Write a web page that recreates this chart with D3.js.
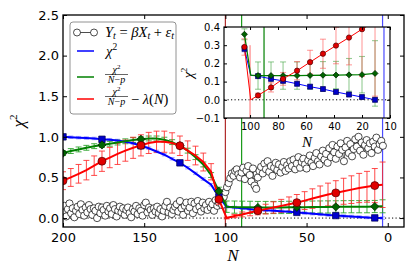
<!DOCTYPE html>
<html>
<head>
<meta charset="utf-8">
<script src="https://cdn.jsdelivr.net/npm/d3@7"></script>
<style>
  body { margin: 0; background: #fff; }
  .math { font-family: "Liberation Serif", "DejaVu Serif", serif; }
</style>
</head>
<body>
<svg id="chart" width="415" height="277"></svg>
<script>
// ---- data ----

// model points Y_t = beta X_t + eps_t (one per N, from N=200 down to N=3)
var scatterN = d3.range(200, 2, -1);
var scatterY = [
  0.08, 0.15, 0.02, 0.11, 0.18, 0.06, 0.12, 0.01, 0.09, 0.14,
  0.05, 0.17, 0.10, 0.03, 0.13, 0.07, 0.16, 0.11, 0.04, 0.12,
  0.09, 0.00, 0.14, 0.06, 0.13, 0.10, 0.03, 0.15, 0.08, 0.12,
  0.05, 0.16, 0.11, 0.02, 0.09, 0.14, 0.07, 0.12, 0.04, 0.10,
  0.13, 0.06, 0.01, 0.11, 0.08, 0.15, 0.05, 0.12, 0.09, 0.03,
  0.16, 0.19, 0.07, 0.13, 0.10, 0.04, 0.12, 0.08, 0.14, 0.06,
  0.11, 0.02, 0.09, 0.15, 0.20, 0.07, 0.13, 0.05, 0.10, 0.14,
  0.17, 0.08, 0.21, 0.12, 0.04, 0.15, 0.19, 0.09, 0.13, 0.20,
  0.06, 0.18, 0.11, 0.21, 0.14, 0.08, 0.19, 0.12, 0.16, 0.10,
  0.20, 0.13, 0.17, 0.09, 0.22, 0.15, 0.19, 0.24, 0.16, 0.26,
  0.32, 0.38, 0.43, 0.49, 0.55, 0.52, 0.58, 0.60, 0.54, 0.50,
  0.56, 0.62, 0.48, 0.58, 0.64, 0.53, 0.45, 0.61, 0.40, 0.36,
  0.50, 0.58, 0.63, 0.55, 0.67, 0.60, 0.70, 0.57, 0.64, 0.52,
  0.62, 0.68, 0.59, 0.66, 0.56, 0.63, 0.69, 0.58, 0.65, 0.61,
  0.70, 0.64, 0.72, 0.60, 0.67, 0.75, 0.62, 0.69, 0.73, 0.66,
  0.61, 0.71, 0.77, 0.68, 0.64, 0.74, 0.80, 0.70, 0.66, 0.76,
  0.83, 0.72, 0.79, 0.68, 0.86, 0.75, 0.90, 0.81, 0.73, 0.88,
  0.79, 0.92, 0.84, 0.70, 0.87, 0.95, 0.80, 0.91, 0.76, 0.85,
  0.97, 0.88, 1.00, 0.83, 0.93, 0.78, 0.90, 0.96, 0.86, 0.92,
  0.80, 0.94, 0.88, 0.99, 0.84, 0.91, 0.95, 0.89
];

// main panel curves
var mainN = [200, 195.2, 190.4, 185.6, 180.8, 176, 171.2, 166.4, 161.6, 156.8,
             152, 147.2, 142.4, 137.6, 132.8, 128, 123.2, 118.4, 113.6, 108.8,
             104, 99.2, 94.4, 89.6, 84.8, 80, 75.2, 70.4, 65.6, 60.8,
             56, 51.2, 46.4, 41.6, 36.8, 32, 27.2, 22.4, 17.6, 12.8, 8, 3.2];
var chi2 = [1.00, 0.995, 0.99, 0.985, 0.98, 0.97, 0.965, 0.955, 0.94, 0.92,
            0.89, 0.86, 0.82, 0.78, 0.73, 0.68, 0.62, 0.55, 0.48, 0.41,
            0.26, 0.14, 0.13, 0.12, 0.11, 0.10, 0.095, 0.09, 0.085, 0.078,
            0.07, 0.062, 0.054, 0.046, 0.038, 0.031, 0.025, 0.019, 0.013, 0.007, 0.002, 0.0];
var chi2Err = [0.015, 0.015, 0.015, 0.015, 0.015, 0.015, 0.015, 0.015, 0.015, 0.015,
               0.015, 0.015, 0.015, 0.015, 0.015, 0.015, 0.015, 0.015, 0.015, 0.015,
               0.015, 0.015, 0.015, 0.015, 0.015, 0.015, 0.015, 0.015, 0.015, 0.015,
               0.015, 0.015, 0.015, 0.015, 0.015, 0.015, 0.015, 0.015, 0.015, 0.015, 0.015, 0.015];
var chi2Red = [0.80, 0.825, 0.845, 0.865, 0.885, 0.90, 0.915, 0.93, 0.945, 0.96,
               0.97, 0.98, 0.98, 0.965, 0.935, 0.89, 0.83, 0.75, 0.66, 0.53,
               0.33, 0.14, 0.135, 0.133, 0.132, 0.13, 0.13, 0.13, 0.13, 0.132,
               0.133, 0.134, 0.135, 0.136, 0.137, 0.138, 0.139, 0.14, 0.14, 0.14, 0.142, 0.145];
var chi2RedErr = [0.03, 0.03, 0.03, 0.03, 0.03, 0.03, 0.03, 0.03, 0.03, 0.03,
                  0.03, 0.03, 0.03, 0.03, 0.03, 0.03, 0.03, 0.03, 0.03, 0.03,
                  0.05, 0.07, 0.075, 0.075, 0.075, 0.075, 0.075, 0.075, 0.075, 0.075,
                  0.075, 0.075, 0.075, 0.075, 0.075, 0.075, 0.075, 0.075, 0.075, 0.075, 0.075, 0.08];
var chi2Pen = [0.46, 0.50, 0.545, 0.59, 0.645, 0.70, 0.745, 0.79, 0.83, 0.865,
               0.895, 0.925, 0.94, 0.94, 0.925, 0.89, 0.83, 0.77, 0.69, 0.57,
               0.23, 0.0, 0.025, 0.045, 0.068, 0.09, 0.11, 0.13, 0.15, 0.17,
               0.19, 0.215, 0.24, 0.265, 0.29, 0.31, 0.33, 0.35, 0.37, 0.385, 0.40, 0.41];
var chi2PenErr = [0.11, 0.11, 0.115, 0.12, 0.12, 0.125, 0.125, 0.13, 0.13, 0.13,
                  0.13, 0.13, 0.13, 0.13, 0.125, 0.12, 0.12, 0.115, 0.11, 0.10,
                  0.06, 0.01, 0.02, 0.03, 0.04, 0.05, 0.06, 0.07, 0.08, 0.09,
                  0.10, 0.11, 0.12, 0.13, 0.14, 0.15, 0.16, 0.17, 0.18, 0.19, 0.21, 0.28];

// inset (zoom on N < 105)
var insetN = [104, 99.5, 94.3, 85, 76.4, 66.4, 57.1, 47.9, 38.6, 29.3, 20, 10.7];
var insetChi2 = [0.28, 0.135, 0.13, 0.115, 0.104, 0.088, 0.072, 0.059, 0.043, 0.029, 0.015, 0.0];
var insetChi2Err = [0.015, 0, 0.012, 0.012, 0.012, 0.012, 0.012, 0.012, 0.012, 0.012, 0.012, 0.012];
var insetRed = [0.36, 0.135, 0.133, 0.133, 0.133, 0.133, 0.134, 0.135, 0.136, 0.137, 0.138, 0.145];
var insetRedErr = [0.03, 0, 0.075, 0.075, 0.075, 0.075, 0.075, 0.075, 0.075, 0.09, 0.1, 0.18];
var insetPen = [0.29, 0.0, 0.024, 0.068, 0.115, 0.16, 0.207, 0.253, 0.298, 0.342, 0.388, 0.43];
var insetPenErr = [0.045, 0, 0.012, 0.025, 0.035, 0.05, 0.065, 0.08, 0.1, 0.15, 0.26, 0.41];

// vertical markers (N values)
var vlineN = {red: 100, green: 90, blue: 3.2};
var insetVlineN = {red: 100, green: 90, blue: 4.3};

// ticks
var xTicks = [200, 150, 100, 50, 0];
var yTicks = [0.0, 0.5, 1.0, 1.5, 2.0, 2.5];
var insetXTicks = [100, 80, 60, 40, 20, 0];
var insetXTickLabels = ["100", "80", "60", "40", "20", "10"];
var insetYTicks = [-0.1, 0.0, 0.1, 0.2, 0.3, 0.4];

// ---- layout ----
var svg = d3.select("#chart"),
    main = {left: 63, right: 404, top: 15, bottom: 227},
    ins = {left: 224, right: 390, top: 27, bottom: 118};

var x = d3.scaleLinear().domain([200, -10]).range([main.left, main.right]),
    y = d3.scaleLinear().domain([-0.11, 2.5]).range([main.bottom, main.top]);
var xi = d3.scaleLinear().domain([118.6, 0]).range([ins.left, ins.right]),
    yi = d3.scaleLinear().domain([-0.1, 0.4]).range([ins.bottom, ins.top]);

var defs = svg.append("defs");
defs.append("clipPath").attr("id", "clipMain").append("rect")
    .attr("x", main.left).attr("y", main.top)
    .attr("width", main.right - main.left).attr("height", main.bottom - main.top);
defs.append("clipPath").attr("id", "clipIns").append("rect")
    .attr("x", ins.left).attr("y", ins.top)
    .attr("width", ins.right - ins.left).attr("height", ins.bottom - ins.top);

// draws error bars with caps
function errorBars(g, ns, vals, errs, sx, sy, color, cap, op, sw) {
  var idx = d3.range(ns.length).filter(function(i) { return errs[i] > 0; });
  var eb = g.append("g").attr("stroke", color).attr("stroke-opacity", op).attr("stroke-width", sw);
  eb.selectAll(".v").data(idx).enter().append("line")
    .attr("x1", function(i) { return sx(ns[i]); }).attr("x2", function(i) { return sx(ns[i]); })
    .attr("y1", function(i) { return sy(vals[i] - errs[i]); })
    .attr("y2", function(i) { return sy(vals[i] + errs[i]); });
  [-1, 1].forEach(function(s) {
    eb.selectAll(".c" + s).data(idx).enter().append("line")
      .attr("x1", function(i) { return sx(ns[i]) - cap; })
      .attr("x2", function(i) { return sx(ns[i]) + cap; })
      .attr("y1", function(i) { return sy(vals[i] + s * errs[i]); })
      .attr("y2", function(i) { return sy(vals[i] + s * errs[i]); });
  });
}

function curve(g, ns, vals, sx, sy, color, sw) {
  var line = d3.line()
    .x(function(d) { return sx(d[0]); })
    .y(function(d) { return sy(d[1]); });
  g.append("path").datum(d3.zip(ns, vals))
    .attr("d", line).attr("fill", "none")
    .attr("stroke", color).attr("stroke-width", sw);
}

// markers: type "s" square, "D" diamond, "o" circle
function markers(g, ns, vals, idx, sx, sy, type, size, fill, edge) {
  var sym = type === "o" ? d3.symbolCircle : d3.symbolSquare;
  g.selectAll(null).data(idx).enter().append("path")
    .attr("d", d3.symbol().type(sym).size(size))
    .attr("transform", function(i) {
      return "translate(" + sx(ns[i]) + "," + sy(vals[i]) + ")" + (type === "D" ? " rotate(45)" : "");
    })
    .attr("fill", fill).attr("stroke", edge).attr("stroke-width", 0.7);
}

// ---- main panel ----
svg.append("rect").attr("x", main.left).attr("y", main.top)
  .attr("width", main.right - main.left).attr("height", main.bottom - main.top).attr("fill", "#fff");

var gm = svg.append("g").attr("clip-path", "url(#clipMain)");

gm.append("line").attr("x1", main.left).attr("x2", main.right)
  .attr("y1", y(0)).attr("y2", y(0))
  .attr("stroke", "#000").attr("stroke-dasharray", "1.2,2.3");

gm.append("line").attr("x1", x(vlineN.red)).attr("x2", x(vlineN.red))
  .attr("y1", main.top).attr("y2", main.bottom).attr("stroke", "#b02a2a").attr("stroke-width", 1.2);
gm.append("line").attr("x1", x(vlineN.green)).attr("x2", x(vlineN.green))
  .attr("y1", main.top).attr("y2", main.bottom).attr("stroke", "#1a9a1a").attr("stroke-width", 1.2);
gm.append("line").attr("x1", x(vlineN.blue)).attr("x2", x(vlineN.blue))
  .attr("y1", main.top).attr("y2", main.bottom).attr("stroke", "#4b4bff").attr("stroke-width", 1.2);

// model points
gm.append("path").datum(d3.zip(scatterN, scatterY))
  .attr("d", d3.line().x(function(d) { return x(d[0]); }).y(function(d) { return y(d[1]); }))
  .attr("fill", "none").attr("stroke", "#000").attr("stroke-width", 0.6);
gm.selectAll(".pt").data(d3.zip(scatterN, scatterY)).enter().append("circle")
  .attr("cx", function(d) { return x(d[0]); })
  .attr("cy", function(d) { return y(d[1]); })
  .attr("r", 3.6).attr("fill", "#fff").attr("stroke", "#000").attr("stroke-width", 0.7);

var every5 = d3.range(0, mainN.length, 5);

errorBars(gm, mainN, chi2, chi2Err, x, y, "#4d4dff", 2.5, 0.5, 1);
errorBars(gm, mainN, chi2Red, chi2RedErr, x, y, "#22a022", 3, 0.85, 1);
errorBars(gm, mainN, chi2Pen, chi2PenErr, x, y, "#ff2a2a", 3, 0.85, 1);

curve(gm, mainN, chi2, x, y, "#0000ff", 2);
curve(gm, mainN, chi2Red, x, y, "#008000", 2);
curve(gm, mainN, chi2Pen, x, y, "#ff0000", 2);

markers(gm, mainN, chi2, every5, x, y, "s", 42, "#0000cc", "#000050");
markers(gm, mainN, chi2Red, every5, x, y, "D", 34, "#006400", "#002200");
markers(gm, mainN, chi2Pen, every5, x, y, "o", 50, "#e00000", "#500000");

// main frame and ticks
svg.append("rect").attr("x", main.left).attr("y", main.top)
  .attr("width", main.right - main.left).attr("height", main.bottom - main.top)
  .attr("fill", "none").attr("stroke", "#000").attr("stroke-width", 1.3);

function styleAxis(g, size) {
  g.select(".domain").remove();
  g.attr("font-family", "DejaVu Sans").attr("font-size", size);
  g.selectAll(".tick line").attr("stroke", "#000");
}

svg.append("g").attr("transform", "translate(0," + main.bottom + ")")
  .call(d3.axisBottom(x).tickValues(xTicks).tickFormat(d3.format("d"))
    .tickSizeInner(-4).tickSizeOuter(0).tickPadding(6))
  .call(styleAxis, 13);
svg.append("g").attr("transform", "translate(0," + main.top + ")")
  .call(d3.axisTop(x).tickValues(xTicks).tickFormat("").tickSizeInner(-4).tickSizeOuter(0))
  .call(styleAxis, 13);
svg.append("g").attr("transform", "translate(" + main.left + ",0)")
  .call(d3.axisLeft(y).tickValues(yTicks).tickFormat(d3.format(".1f"))
    .tickSizeInner(-4).tickSizeOuter(0).tickPadding(4))
  .call(styleAxis, 13);
svg.append("g").attr("transform", "translate(" + main.right + ",0)")
  .call(d3.axisRight(y).tickValues(yTicks).tickFormat("").tickSizeInner(-4).tickSizeOuter(0))
  .call(styleAxis, 13);

// axis labels
var ylab = svg.append("text").attr("class", "math")
  .attr("transform", "translate(24,121) rotate(-90)")
  .attr("text-anchor", "middle").attr("font-size", 17);
ylab.append("tspan").attr("font-style", "italic").text("χ");
ylab.append("tspan").attr("font-size", 11).attr("dy", -7).text("2");

svg.append("text").attr("class", "math").attr("x", 233).attr("y", 261)
  .attr("text-anchor", "middle").attr("font-size", 17).attr("font-style", "italic").text("N");

// ---- legend ----
var lg = svg.append("g");
lg.append("rect").attr("x", 70).attr("y", 22).attr("width", 106).attr("height", 92)
  .attr("rx", 3).attr("fill", "#fff").attr("stroke", "#777").attr("stroke-width", 0.8);

var handleX = [77, 94];
lg.append("line").attr("x1", handleX[0]).attr("x2", handleX[1]).attr("y1", 32.5).attr("y2", 32.5)
  .attr("stroke", "#000").attr("stroke-width", 0.7);
lg.selectAll(".lc").data(handleX).enter().append("circle")
  .attr("cx", function(d) { return d; }).attr("cy", 32.5).attr("r", 3.5)
  .attr("fill", "#fff").attr("stroke", "#000").attr("stroke-width", 0.7);
[[51, "#0000ff"], [77, "#008000"], [99, "#ff0000"]].forEach(function(e) {
  lg.append("line").attr("x1", handleX[0]).attr("x2", handleX[1]).attr("y1", e[0]).attr("y2", e[0])
    .attr("stroke", e[1]).attr("stroke-width", 1.5);
});

// entry 1
var t1 = lg.append("text").attr("class", "math").attr("x", 105).attr("y", 36.5).attr("font-size", 14.5);
t1.append("tspan").attr("font-style", "italic").text("Y");
t1.append("tspan").attr("font-style", "italic").attr("font-size", 10).attr("dy", 2.5).text("t");
t1.append("tspan").attr("dy", -2.5).text(" = ");
t1.append("tspan").attr("font-style", "italic").text("βX");
t1.append("tspan").attr("font-style", "italic").attr("font-size", 10).attr("dy", 2.5).text("t");
t1.append("tspan").attr("dy", -2.5).text(" + ");
t1.append("tspan").attr("font-style", "italic").text("ε");
t1.append("tspan").attr("font-style", "italic").attr("font-size", 10).attr("dy", 2.5).text("t");

// entry 2
var t2 = lg.append("text").attr("class", "math").attr("x", 106).attr("y", 55.5).attr("font-size", 14.5);
t2.append("tspan").attr("font-style", "italic").text("χ");
t2.append("tspan").attr("font-size", 9.5).attr("dy", -5.5).text("2");

// fraction chi^2 / (N - p)
function fraction(g, x0, barY) {
  var num = g.append("text").attr("class", "math").attr("x", x0 + 11.5).attr("y", barY - 2)
    .attr("text-anchor", "middle").attr("font-size", 10);
  num.append("tspan").attr("font-style", "italic").text("χ");
  num.append("tspan").attr("font-size", 7).attr("dy", -3.5).text("2");
  g.append("line").attr("x1", x0).attr("x2", x0 + 23).attr("y1", barY).attr("y2", barY)
    .attr("stroke", "#000").attr("stroke-width", 0.6);
  var den = g.append("text").attr("class", "math").attr("x", x0 + 11.5).attr("y", barY + 8.5)
    .attr("text-anchor", "middle").attr("font-size", 10);
  den.append("tspan").attr("font-style", "italic").text("N");
  den.append("tspan").text("−");
  den.append("tspan").attr("font-style", "italic").text("p");
}
fraction(lg, 105, 74.5);
fraction(lg, 105, 96.5);
var t4 = lg.append("text").attr("class", "math").attr("x", 131).attr("y", 103.5).attr("font-size", 14.5);
t4.append("tspan").text("− ");
t4.append("tspan").attr("font-style", "italic").text("λ");
t4.append("tspan").text("(");
t4.append("tspan").attr("font-style", "italic").text("N");
t4.append("tspan").text(")");

// ---- inset ----
svg.append("rect").attr("x", ins.left).attr("y", ins.top)
  .attr("width", ins.right - ins.left).attr("height", ins.bottom - ins.top).attr("fill", "#fff");

var gi = svg.append("g").attr("clip-path", "url(#clipIns)");
gi.append("line").attr("x1", ins.left).attr("x2", ins.right)
  .attr("y1", yi(0)).attr("y2", yi(0))
  .attr("stroke", "#000").attr("stroke-dasharray", "1.2,2.3");
gi.append("line").attr("x1", xi(insetVlineN.red)).attr("x2", xi(insetVlineN.red))
  .attr("y1", yi(0.3)).attr("y2", ins.bottom).attr("stroke", "#ff6b6b").attr("stroke-width", 1);
gi.append("line").attr("x1", xi(insetVlineN.green)).attr("x2", xi(insetVlineN.green))
  .attr("y1", ins.top).attr("y2", ins.bottom).attr("stroke", "#008000").attr("stroke-width", 1.2);
gi.append("line").attr("x1", xi(insetVlineN.blue)).attr("x2", xi(insetVlineN.blue))
  .attr("y1", ins.top).attr("y2", ins.bottom).attr("stroke", "#4b4bff").attr("stroke-width", 1.2);

errorBars(gi, insetN, insetChi2, insetChi2Err, xi, yi, "#6f6fff", 3, 0.55, 1.5);
errorBars(gi, insetN, insetRed, insetRedErr, xi, yi, "#3aa03a", 3, 0.55, 1.1);
errorBars(gi, insetN, insetPen, insetPenErr, xi, yi, "#ff4d4d", 3, 0.55, 1.1);

curve(gi, insetN, insetChi2, xi, yi, "#0000ff", 1);
curve(gi, insetN, insetRed, xi, yi, "#008000", 1.3);
curve(gi, insetN, insetPen, xi, yi, "#ff0000", 1);

var insIdx = [0, 2, 3, 4, 5, 6, 7, 8, 9, 10, 11];
markers(gi, insetN, insetChi2, insIdx, xi, yi, "s", 24, "#0000cc", "#000050");
markers(gi, insetN, insetRed, insIdx, xi, yi, "D", 18, "#006400", "#002200");
markers(gi, insetN, insetPen, insIdx, xi, yi, "o", 22, "#e00000", "#500000");

svg.append("rect").attr("x", ins.left).attr("y", ins.top)
  .attr("width", ins.right - ins.left).attr("height", ins.bottom - ins.top)
  .attr("fill", "none").attr("stroke", "#000").attr("stroke-width", 1.2);

svg.append("g").attr("transform", "translate(0," + ins.bottom + ")")
  .call(d3.axisBottom(xi).tickValues(insetXTicks)
    .tickFormat(function(d, i) { return insetXTickLabels[i]; })
    .tickSizeInner(-3).tickSizeOuter(0).tickPadding(5))
  .call(styleAxis, 10);
svg.append("g").attr("transform", "translate(0," + ins.top + ")")
  .call(d3.axisTop(xi).tickValues(insetXTicks).tickFormat("").tickSizeInner(-3).tickSizeOuter(0))
  .call(styleAxis, 10);
svg.append("g").attr("transform", "translate(" + ins.left + ",0)")
  .call(d3.axisLeft(yi).tickValues(insetYTicks).tickFormat(d3.format(".1f"))
    .tickSizeInner(-3).tickSizeOuter(0).tickPadding(4))
  .call(styleAxis, 10);
svg.append("g").attr("transform", "translate(" + ins.right + ",0)")
  .call(d3.axisRight(yi).tickValues(insetYTicks).tickFormat("").tickSizeInner(-3).tickSizeOuter(0))
  .call(styleAxis, 10);

var iyl = svg.append("text").attr("class", "math")
  .attr("transform", "translate(193,73) rotate(-90)")
  .attr("text-anchor", "middle").attr("font-size", 14);
iyl.append("tspan").attr("font-style", "italic").text("χ");
iyl.append("tspan").attr("font-size", 9).attr("dy", -6).text("2");

svg.append("text").attr("class", "math").attr("x", 307).attr("y", 147)
  .attr("text-anchor", "middle").attr("font-size", 15).attr("font-style", "italic").text("N");
</script>
</body>
</html>
